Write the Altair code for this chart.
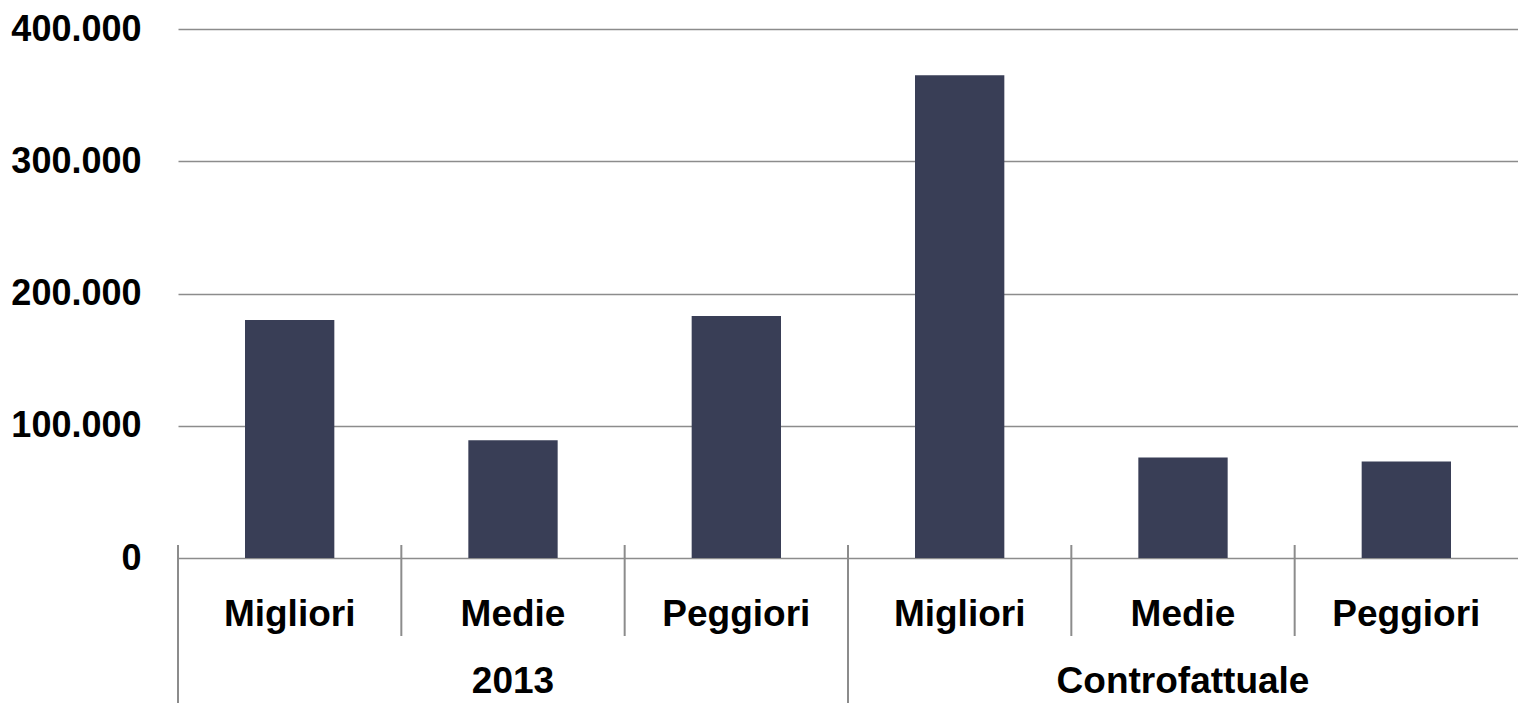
import altair as alt
import pandas as pd

groups = ["2013", "2013", "2013", "Controfattuale", "Controfattuale", "Controfattuale"]
categories = ["Migliori", "Medie", "Peggiori", "Migliori", "Medie", "Peggiori"]
values = [180000, 89000, 183000, 365000, 76000, 73000]
group_names = ["2013", "Controfattuale"]
y_ticks = [0, 100000, 200000, 300000, 400000]

keys = [f"{g}|{c}" for g, c in zip(groups, categories)]
df = pd.DataFrame({"key": keys, "group": groups, "cat": categories, "value": values})

ticks_df = pd.DataFrame({"key": keys})
sep_keys = [keys[groups.index(g)] for g in group_names]
sep_df = pd.DataFrame({"key": sep_keys})
mid_keys = [keys[groups.index(g) + 1] for g in group_names]
glabel_df = pd.DataFrame({"key": mid_keys, "label": group_names})

FONT = "Liberation Sans, Arial, sans-serif"
FS = 37
W, H = 1340, 529
GRID = "#8c8c8c"

x_enc = alt.X(
    "key:N",
    scale=alt.Scale(domain=keys, paddingInner=0, paddingOuter=0),
    sort=None,
    axis=alt.Axis(
        title=None, ticks=False, domain=False, labelAngle=0,
        labelExpr="split(datum.label, '|')[1]",
        labelFont=FONT, labelFontSize=FS, labelFontWeight="bold",
        labelColor="black", labelPadding=67, labelBaseline="alphabetic",
        labelOverlap=False,
    ),
)

bars = alt.Chart(df).mark_bar(color="#393e56", width=alt.RelativeBandSize(0.4)).encode(
    x=x_enc,
    y=alt.Y(
        "value:Q",
        scale=alt.Scale(domain=[0, 400000], nice=False),
        axis=alt.Axis(
            values=y_ticks, title=None, ticks=False, domain=False, grid=True,
            gridColor=GRID, gridWidth=1.5,
            labelExpr="replace(format(datum.value, ',.0f'), ',', '.')",
            labelFont=FONT, labelFontSize=36, labelFontWeight="bold",
            labelColor="black", labelPadding=37,
        ),
    ),
)

tick_rules = alt.Chart(ticks_df).mark_rule(color=GRID, strokeWidth=2).encode(
    x=alt.X("key:N", bandPosition=0, sort=None),
    y=alt.value(H - 13),
    y2=alt.value(H + 78),
)

sep_rules = alt.Chart(sep_df).mark_rule(color=GRID, strokeWidth=2).encode(
    x=alt.X("key:N", bandPosition=0, sort=None),
    y=alt.value(H - 13),
    y2=alt.value(H + 160),
)

glabels = alt.Chart(glabel_df).mark_text(
    font=FONT, fontSize=FS, fontWeight="bold", color="black", baseline="alphabetic"
).encode(
    x=alt.X("key:N", sort=None),
    y=alt.value(H + 135),
    text="label:N",
)

chart = alt.layer(bars, tick_rules, sep_rules, glabels).properties(
    width=W, height=H,
    autosize=alt.AutoSizeParams(type="none"),
    padding={"left": 170, "top": 21, "right": 0, "bottom": 145},
).configure_view(stroke=None)

chart.save("out.html", embed_options={"renderer": "svg", "actions": False})
